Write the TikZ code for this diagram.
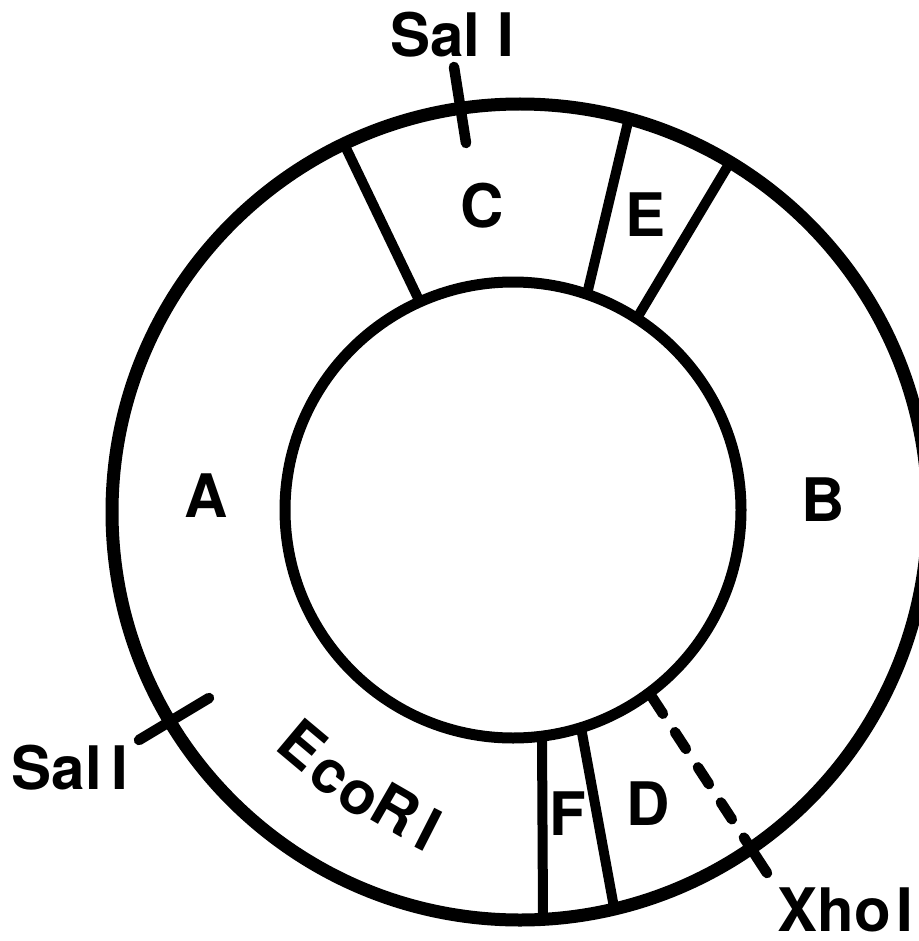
\documentclass[tikz,border=0pt]{standalone}
\usepackage{fontspec}
\setmainfont{TeX Gyre Heros}
\usetikzlibrary{calc}
\begin{document}
\begin{tikzpicture}[x=1pt,y=-1pt,
  lbl/.style={font=\fontsize{60}{60}\selectfont\bfseries, inner sep=0pt, anchor=center},
  ring/.style={line width=13pt},
  hub/.style={line width=11pt},
  cut/.style={line width=10pt},
  site/.style={line width=10.5pt, line cap=round}]
\useasboundingbox (0,0) rectangle (918,941);
\fill[white] (0,0) rectangle (918,941);

% centres of the two circles of the map
\coordinate (oc) at (520,512);
\coordinate (ic) at (513,510);

% fragment boundaries: outer end (-o) and inner end (-i)
\coordinate (ac-o) at (345,146); \coordinate (ac-i) at (417,296);
\coordinate (ce-o) at (628,122); \coordinate (ce-i) at (588,290);
\coordinate (eb-o) at (729,164); \coordinate (eb-i) at (640,313);
\coordinate (af-o) at (543,915); \coordinate (af-i) at (542,738);
\coordinate (fd-o) at (613,902); \coordinate (fd-i) at (582,733);

\begin{scope}
  \clip (oc) circle (408pt);
  \foreach \b in {ac,ce,eb,af,fd}
    \draw[cut] ($(\b-o)!-15pt!(\b-i)$) -- ($(\b-i)!-15pt!(\b-o)$);
\end{scope}
\fill[white] (ic) circle (228pt);
\draw[hub] (ic) circle (228pt);
\draw[ring] (oc) circle (408pt);

% restriction sites
\coordinate (s1a) at (454,67);  \coordinate (s1b) at (466,143);
\coordinate (s2a) at (209,698); \coordinate (s2b) at (139,740);
\coordinate (xa) at (652,697);  \coordinate (xb) at (767,873);
\draw[site] (s1a) -- (s1b);
\draw[site] (s2a) -- (s2b);
\draw[site, dash pattern=on 20pt off 22pt on 20pt off 22pt on 20pt off 22pt on 20pt off 22pt on 60pt off 20pt] (xa) -- (xb);

% fragment labels
\node[lbl] (fa) at (206,496) {A};
\node[lbl] (fb) at (823,500) {B};
\node[lbl] (fc) at (482,206) {C};
\node[lbl] (fdd) at (648,804) {D};
\node[lbl] (fe) at (645,215) {E};
\node[lbl] (ff) at (568,814) {F};

% enzyme labels
\node[lbl] (sal1) at (452,35) {Sal I};
\node[lbl] (sal2) at (70,768) {Sal\hspace{10pt}I};
\node[lbl, anchor=east] (xho) at (913,910) {Xho\hspace{5pt}I};

% EcoRI set along the ring
\node[lbl, rotate=-40] (e1) at (303,745) {E};
\node[lbl, rotate=-37] (e2) at (329,777) {c};
\node[lbl, rotate=-33] (e3) at (358,798) {o};
\node[lbl, rotate=-30] (e4) at (396,809) {R};
\node[lbl, rotate=-27] (e5) at (429,830) {I};
\end{tikzpicture}
\end{document}
